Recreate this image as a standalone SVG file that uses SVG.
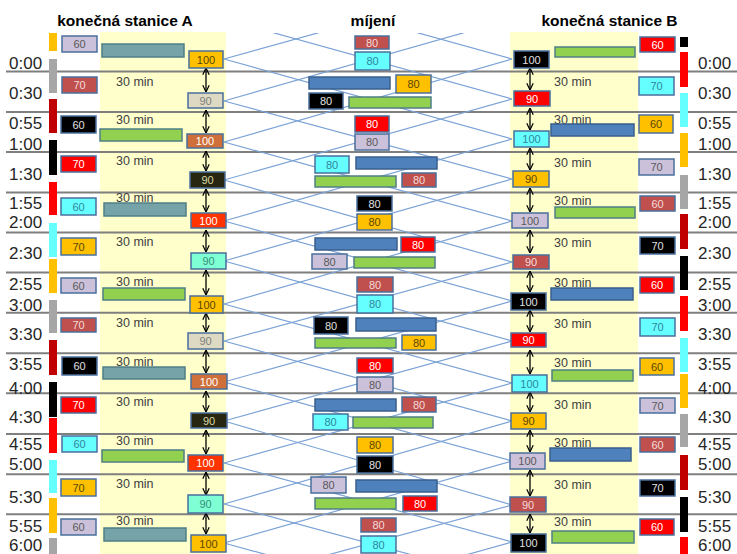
<svg xmlns="http://www.w3.org/2000/svg" width="737" height="554" viewBox="0 0 737 554">
<style>
text{font-family:"Liberation Sans",Arial,sans-serif}
.time{font-size:17px;fill:#262626}
.title{font-size:15.5px;font-weight:bold;fill:#000;text-anchor:middle}
.min{font-size:12.5px;fill:#404040}
.bx{stroke:#4A6F9C;stroke-width:1.5}
.bar{stroke:#4F7F86;stroke-width:1.5}
.lb{font-size:11px;text-anchor:middle}
.hl{stroke:#7F7F7F;stroke-width:2}
.cn{stroke:#7BA3D6;stroke-width:1.2;fill:none}
.ar{stroke:#000;stroke-width:1.3;marker-start:url(#ah);marker-end:url(#ah)}
.lav{fill:#CCC1DA}.tlav{fill:#595959}
.brn{fill:#C0504D}.tbrn{fill:#F2DCDB}
.blk{fill:#000}.tblk{fill:#E0E0E0}
.red{fill:#FF0000}.tred{fill:#FFF}
.cyn{fill:#66FFFF}.tcyn{fill:#31859C}
.org{fill:#FFC000}.torg{fill:#5A4600}
.tan{fill:#DDD9C3}.ttan{fill:#7F7F7F}
.rust{fill:#CF6F3A}.trust{fill:#FFF}
.dko{fill:#262611}.tdko{fill:#DDD9A8}
.rdo{fill:#FF3300}.trdo{fill:#FFF}
.aqa{fill:#7FFFD4}.taqa{fill:#3A8F7A}
.teal{fill:#75A3A8}.grn{fill:#92D050}.blu{fill:#4F81BD;stroke:#3A5F8D;stroke-width:1.5}
</style>
<defs>
<marker id="ah" viewBox="0 0 10 10" refX="9.5" refY="5" markerWidth="8" markerHeight="8" markerUnits="userSpaceOnUse" orient="auto-start-reverse"><path d="M1,1 L9.5,5 L1,9" fill="none" stroke="#000" stroke-width="1.5"/></marker>
<clipPath id="cp"><rect x="0" y="33" width="737" height="521"/></clipPath>
</defs>
<rect width="737" height="554" fill="#fff"/>
<g id="bands">
<rect x="100" y="32" width="126" height="522" fill="#FFFFCC"/>
<rect x="510" y="32" width="128" height="522" fill="#FFFFCC"/>
</g>
<g id="titles">
<text class="title" x="125" y="26">konečná stanice A</text>
<text class="title" x="373" y="26">míjení</text>
<text class="title" x="609.5" y="26">konečná stanice B</text>
</g>
<g id="gridlines">
<line class="hl" x1="6" y1="71.5" x2="737" y2="71.5"/>
<line class="hl" x1="6" y1="112" x2="737" y2="112"/>
<line class="hl" x1="6" y1="152" x2="737" y2="152"/>
<line class="hl" x1="6" y1="192.5" x2="737" y2="192.5"/>
<line class="hl" x1="6" y1="232.5" x2="737" y2="232.5"/>
<line class="hl" x1="6" y1="272.5" x2="737" y2="272.5"/>
<line class="hl" x1="6" y1="312.7" x2="737" y2="312.7"/>
<line class="hl" x1="6" y1="353.3" x2="737" y2="353.3"/>
<line class="hl" x1="6" y1="393.3" x2="737" y2="393.3"/>
<line class="hl" x1="6" y1="434" x2="737" y2="434"/>
<line class="hl" x1="6" y1="474.3" x2="737" y2="474.3"/>
<line class="hl" x1="6" y1="514.3" x2="737" y2="514.3"/>
</g>
<g id="connectors">
<g clip-path="url(#cp)">
<line class="cn" x1="224" y1="-21" x2="512" y2="59"/>
<line class="cn" x1="224" y1="19" x2="512" y2="99"/>
<line class="cn" x1="224" y1="59" x2="512" y2="139"/>
<line class="cn" x1="224" y1="101" x2="512" y2="179"/>
<line class="cn" x1="224" y1="142" x2="512" y2="221"/>
<line class="cn" x1="224" y1="180" x2="512" y2="262"/>
<line class="cn" x1="224" y1="221" x2="512" y2="301"/>
<line class="cn" x1="224" y1="261" x2="512" y2="341"/>
<line class="cn" x1="224" y1="304" x2="512" y2="383"/>
<line class="cn" x1="224" y1="341" x2="512" y2="421"/>
<line class="cn" x1="224" y1="382" x2="512" y2="461"/>
<line class="cn" x1="224" y1="421" x2="512" y2="505"/>
<line class="cn" x1="224" y1="463" x2="512" y2="542"/>
<line class="cn" x1="224" y1="504" x2="512" y2="582"/>
<line class="cn" x1="224" y1="543" x2="512" y2="622"/>
<line class="cn" x1="512" y1="-21" x2="224" y2="59"/>
<line class="cn" x1="512" y1="19" x2="224" y2="101"/>
<line class="cn" x1="512" y1="59" x2="224" y2="142"/>
<line class="cn" x1="512" y1="99" x2="224" y2="180"/>
<line class="cn" x1="512" y1="139" x2="224" y2="221"/>
<line class="cn" x1="512" y1="179" x2="224" y2="261"/>
<line class="cn" x1="512" y1="221" x2="224" y2="304"/>
<line class="cn" x1="512" y1="262" x2="224" y2="341"/>
<line class="cn" x1="512" y1="301" x2="224" y2="382"/>
<line class="cn" x1="512" y1="341" x2="224" y2="421"/>
<line class="cn" x1="512" y1="383" x2="224" y2="463"/>
<line class="cn" x1="512" y1="421" x2="224" y2="504"/>
<line class="cn" x1="512" y1="461" x2="224" y2="543"/>
<line class="cn" x1="512" y1="505" x2="224" y2="583"/>
<line class="cn" x1="512" y1="542" x2="224" y2="623"/>
</g>
<line class="ar" x1="206" y1="68" x2="206" y2="92"/>
<line class="ar" x1="206" y1="110" x2="206" y2="133"/>
<line class="ar" x1="206" y1="151" x2="206" y2="171"/>
<line class="ar" x1="206" y1="189" x2="206" y2="212"/>
<line class="ar" x1="206" y1="230" x2="206" y2="252"/>
<line class="ar" x1="206" y1="270" x2="206" y2="295"/>
<line class="ar" x1="206" y1="313" x2="206" y2="332"/>
<line class="ar" x1="206" y1="350" x2="206" y2="373"/>
<line class="ar" x1="206" y1="391" x2="206" y2="412"/>
<line class="ar" x1="206" y1="430" x2="206" y2="454"/>
<line class="ar" x1="206" y1="472" x2="206" y2="495"/>
<line class="ar" x1="206" y1="513" x2="206" y2="534"/>
<line class="ar" x1="530" y1="68" x2="530" y2="90"/>
<line class="ar" x1="530" y1="108" x2="530" y2="130"/>
<line class="ar" x1="530" y1="148" x2="530" y2="170"/>
<line class="ar" x1="530" y1="188" x2="530" y2="212"/>
<line class="ar" x1="530" y1="230" x2="530" y2="253"/>
<line class="ar" x1="530" y1="271" x2="530" y2="292"/>
<line class="ar" x1="530" y1="310" x2="530" y2="332"/>
<line class="ar" x1="530" y1="350" x2="530" y2="374"/>
<line class="ar" x1="530" y1="392" x2="530" y2="412"/>
<line class="ar" x1="530" y1="430" x2="530" y2="452"/>
<line class="ar" x1="530" y1="470" x2="530" y2="496"/>
<line class="ar" x1="530" y1="514" x2="530" y2="533"/>
</g>
<g id="strips">
<rect x="49" y="33" width="8" height="18" fill="#FFC000"/>
<rect x="49" y="59" width="8" height="34" fill="#A6A6A6"/>
<rect x="49" y="99" width="8" height="34" fill="#C00000"/>
<rect x="49" y="140" width="8" height="35" fill="#000"/>
<rect x="49" y="182" width="8" height="33" fill="#FF0000"/>
<rect x="49" y="223" width="8" height="34" fill="#66FFFF"/>
<rect x="49" y="259" width="8" height="34" fill="#FFC000"/>
<rect x="49" y="300" width="8" height="33" fill="#A6A6A6"/>
<rect x="49" y="340" width="8" height="35" fill="#C00000"/>
<rect x="49" y="382" width="8" height="35" fill="#000"/>
<rect x="49" y="418" width="8" height="35" fill="#FF0000"/>
<rect x="49" y="460" width="8" height="33" fill="#66FFFF"/>
<rect x="49" y="498" width="8" height="35" fill="#FFC000"/>
<rect x="49" y="538" width="8" height="16" fill="#A6A6A6"/>
<rect x="680" y="37" width="8" height="10" fill="#000"/>
<rect x="680" y="52" width="8" height="35" fill="#FF0000"/>
<rect x="680" y="93" width="8" height="34" fill="#66FFFF"/>
<rect x="680" y="133" width="8" height="34" fill="#FFC000"/>
<rect x="680" y="175" width="8" height="34" fill="#A6A6A6"/>
<rect x="680" y="214" width="8" height="35" fill="#C00000"/>
<rect x="680" y="256" width="8" height="34" fill="#000"/>
<rect x="680" y="296" width="8" height="35" fill="#FF0000"/>
<rect x="680" y="338" width="8" height="34" fill="#66FFFF"/>
<rect x="680" y="374" width="8" height="34" fill="#FFC000"/>
<rect x="680" y="414" width="8" height="33" fill="#A6A6A6"/>
<rect x="680" y="455" width="8" height="35" fill="#C00000"/>
<rect x="680" y="497" width="8" height="35" fill="#000"/>
<rect x="680" y="537" width="8" height="17" fill="#FF0000"/>
</g>
<g id="times">
<text class="time" x="9" y="69">0:00</text>
<text class="time" x="9" y="98.5">0:30</text>
<text class="time" x="9" y="128.5">0:55</text>
<text class="time" x="9" y="150">1:00</text>
<text class="time" x="9" y="180">1:30</text>
<text class="time" x="9" y="208.5">1:55</text>
<text class="time" x="9" y="227.5">2:00</text>
<text class="time" x="9" y="258.5">2:30</text>
<text class="time" x="9" y="290">2:55</text>
<text class="time" x="9" y="311">3:00</text>
<text class="time" x="9" y="340">3:30</text>
<text class="time" x="9" y="370">3:55</text>
<text class="time" x="9" y="393.5">4:00</text>
<text class="time" x="9" y="422.5">4:30</text>
<text class="time" x="9" y="450">4:55</text>
<text class="time" x="9" y="470">5:00</text>
<text class="time" x="9" y="502.5">5:30</text>
<text class="time" x="9" y="532">5:55</text>
<text class="time" x="9" y="550.5">6:00</text>
<text class="time" x="698" y="69">0:00</text>
<text class="time" x="698" y="98.5">0:30</text>
<text class="time" x="698" y="128.5">0:55</text>
<text class="time" x="698" y="150">1:00</text>
<text class="time" x="698" y="180">1:30</text>
<text class="time" x="698" y="208.5">1:55</text>
<text class="time" x="698" y="227.5">2:00</text>
<text class="time" x="698" y="258.5">2:30</text>
<text class="time" x="698" y="290">2:55</text>
<text class="time" x="698" y="311">3:00</text>
<text class="time" x="698" y="340">3:30</text>
<text class="time" x="698" y="370">3:55</text>
<text class="time" x="698" y="393.5">4:00</text>
<text class="time" x="698" y="422.5">4:30</text>
<text class="time" x="698" y="450">4:55</text>
<text class="time" x="698" y="470">5:00</text>
<text class="time" x="698" y="502.5">5:30</text>
<text class="time" x="698" y="532">5:55</text>
<text class="time" x="698" y="550.5">6:00</text>
</g>
<g id="durations">
<text class="min" x="116" y="86">30 min</text>
<text class="min" x="116" y="124">30 min</text>
<text class="min" x="116" y="165">30 min</text>
<text class="min" x="116" y="202">30 min</text>
<text class="min" x="116" y="246">30 min</text>
<text class="min" x="116" y="286">30 min</text>
<text class="min" x="116" y="327">30 min</text>
<text class="min" x="116" y="366">30 min</text>
<text class="min" x="116" y="406">30 min</text>
<text class="min" x="116" y="445">30 min</text>
<text class="min" x="116" y="488">30 min</text>
<text class="min" x="116" y="525">30 min</text>
<text class="min" x="554" y="86">30 min</text>
<text class="min" x="554" y="124">30 min</text>
<text class="min" x="554" y="167">30 min</text>
<text class="min" x="554" y="205">30 min</text>
<text class="min" x="554" y="247">30 min</text>
<text class="min" x="554" y="287">30 min</text>
<text class="min" x="554" y="328">30 min</text>
<text class="min" x="554" y="367">30 min</text>
<text class="min" x="554" y="409">30 min</text>
<text class="min" x="554" y="447">30 min</text>
<text class="min" x="554" y="489">30 min</text>
<text class="min" x="554" y="526">30 min</text>
</g>
<g id="bars">
<rect id="lb0" class="bar teal" x="102" y="44" width="82" height="13"/>
<rect id="lb1" class="bar grn" x="100" y="129" width="82" height="12"/>
<rect id="lb2" class="bar teal" x="104" y="203" width="82" height="13"/>
<rect id="lb3" class="bar grn" x="103" y="288" width="82" height="12"/>
<rect id="lb4" class="bar teal" x="103" y="367" width="82" height="12"/>
<rect id="lb5" class="bar grn" x="102" y="450" width="82" height="12"/>
<rect id="lb6" class="bar teal" x="104" y="528" width="82" height="13"/>
<rect id="rb0" class="bar grn" x="555" y="47" width="80" height="10"/>
<rect id="rb1" class="blu" x="551" y="124" width="83" height="12"/>
<rect id="rb2" class="bar grn" x="555" y="207" width="80" height="11"/>
<rect id="rb3" class="blu" x="551" y="288" width="82" height="12"/>
<rect id="rb4" class="bar grn" x="552" y="370" width="81" height="11"/>
<rect id="rb5" class="blu" x="550" y="448" width="81" height="13"/>
<rect id="rb6" class="bar grn" x="552" y="531" width="82" height="12"/>
<rect id="cb1a" class="blu" x="309" y="77" width="81" height="12"/>
<rect id="cb1b" class="bar grn" x="349" y="97" width="82" height="11"/>
<rect id="cb3a" class="blu" x="356" y="157" width="81" height="12"/>
<rect id="cb3b" class="bar grn" x="315" y="176" width="81" height="11"/>
<rect id="cb5a" class="blu" x="315" y="238" width="82" height="12"/>
<rect id="cb5b" class="bar grn" x="354" y="257" width="81" height="11"/>
<rect id="cb7a" class="blu" x="356" y="318" width="80" height="13"/>
<rect id="cb7b" class="bar grn" x="315" y="338" width="81" height="10"/>
<rect id="cb9a" class="blu" x="315" y="399" width="81" height="12"/>
<rect id="cb9b" class="bar grn" x="353" y="417" width="80" height="11"/>
<rect id="cb11a" class="blu" x="356" y="480" width="81" height="12"/>
<rect id="cb11b" class="bar grn" x="315" y="498" width="81" height="11"/>
</g>
<g id="left-small">
<g id="ls0"><rect class="bx lav" x="62" y="36" width="35" height="16"/><text class="lb tlav" x="79.5" y="48">60</text></g>
<g id="ls1"><rect class="bx brn" x="62" y="77" width="35" height="16"/><text class="lb tbrn" x="79.5" y="89">70</text></g>
<g id="ls2"><rect class="bx blk" x="61" y="116" width="35" height="17"/><text class="lb tblk" x="78.5" y="128.5">60</text></g>
<g id="ls3"><rect class="bx red" x="61" y="156" width="35" height="16"/><text class="lb tred" x="78.5" y="168">70</text></g>
<g id="ls4"><rect class="bx cyn" x="61" y="198" width="35" height="17"/><text class="lb tcyn" x="78.5" y="210.5">60</text></g>
<g id="ls5"><rect class="bx org" x="61" y="238" width="35" height="17"/><text class="lb torg" x="78.5" y="250.5">70</text></g>
<g id="ls6"><rect class="bx lav" x="61" y="278" width="35" height="15"/><text class="lb tlav" x="78.5" y="289.5">60</text></g>
<g id="ls7"><rect class="bx brn" x="61" y="318" width="35" height="14"/><text class="lb tbrn" x="78.5" y="329">70</text></g>
<g id="ls8"><rect class="bx blk" x="62" y="357" width="35" height="18"/><text class="lb tblk" x="79.5" y="370">60</text></g>
<g id="ls9"><rect class="bx red" x="61" y="397" width="35" height="16"/><text class="lb tred" x="78.5" y="409">70</text></g>
<g id="ls10"><rect class="bx cyn" x="62" y="436" width="35" height="16"/><text class="lb tcyn" x="79.5" y="448">60</text></g>
<g id="ls11"><rect class="bx org" x="61" y="479" width="35" height="17"/><text class="lb torg" x="78.5" y="491.5">70</text></g>
<g id="ls12"><rect class="bx lav" x="61" y="519" width="35" height="16"/><text class="lb tlav" x="78.5" y="531">60</text></g>
</g>
<g id="right-small">
<g id="rs0"><rect class="bx red" x="640" y="37" width="35" height="15"/><text class="lb tred" x="657.5" y="48.5">60</text></g>
<g id="rs1"><rect class="bx cyn" x="639" y="77" width="35" height="18"/><text class="lb tcyn" x="656.5" y="90">70</text></g>
<g id="rs2"><rect class="bx org" x="639" y="115" width="34" height="18"/><text class="lb torg" x="656" y="128">60</text></g>
<g id="rs3"><rect class="bx lav" x="639" y="159" width="35" height="16"/><text class="lb tlav" x="656.5" y="171">70</text></g>
<g id="rs4"><rect class="bx brn" x="640" y="196" width="35" height="15"/><text class="lb tbrn" x="657.5" y="207.5">60</text></g>
<g id="rs5"><rect class="bx blk" x="640" y="237" width="35" height="17"/><text class="lb tblk" x="657.5" y="249.5">70</text></g>
<g id="rs6"><rect class="bx red" x="640" y="277" width="34" height="16"/><text class="lb tred" x="657" y="289">60</text></g>
<g id="rs7"><rect class="bx cyn" x="640" y="318" width="35" height="18"/><text class="lb tcyn" x="657.5" y="331">70</text></g>
<g id="rs8"><rect class="bx org" x="640" y="358" width="34" height="17"/><text class="lb torg" x="657" y="370.5">60</text></g>
<g id="rs9"><rect class="bx lav" x="640" y="398" width="35" height="15"/><text class="lb tlav" x="657.5" y="409.5">70</text></g>
<g id="rs10"><rect class="bx brn" x="640" y="437" width="35" height="15"/><text class="lb tbrn" x="657.5" y="448.5">60</text></g>
<g id="rs11"><rect class="bx blk" x="640" y="480" width="35" height="16"/><text class="lb tblk" x="657.5" y="492">70</text></g>
<g id="rs12"><rect class="bx red" x="640" y="519" width="34" height="16"/><text class="lb tred" x="657" y="531">60</text></g>
</g>
<g id="left-dep">
<g id="ld0"><rect class="bx org" x="189" y="51" width="34" height="17"/><text class="lb torg" x="206" y="63.5">100</text></g>
<g id="ld1"><rect class="bx tan" x="188" y="93" width="35" height="15"/><text class="lb ttan" x="205.5" y="104.5">90</text></g>
<g id="ld2"><rect class="bx rust" x="187" y="134" width="36" height="14"/><text class="lb trust" x="205" y="145">100</text></g>
<g id="ld3"><rect class="bx dko" x="190" y="172" width="35" height="16"/><text class="lb tdko" x="207.5" y="184">90</text></g>
<g id="ld4"><rect class="bx rdo" x="191" y="213" width="35" height="15"/><text class="lb trdo" x="208.5" y="224.5">100</text></g>
<g id="ld5"><rect class="bx aqa" x="191" y="253" width="35" height="16"/><text class="lb taqa" x="208.5" y="265">90</text></g>
<g id="ld6"><rect class="bx org" x="190" y="296" width="33" height="17"/><text class="lb torg" x="206.5" y="308.5">100</text></g>
<g id="ld7"><rect class="bx tan" x="188" y="333" width="35" height="16"/><text class="lb ttan" x="205.5" y="345">90</text></g>
<g id="ld8"><rect class="bx rust" x="191" y="374" width="36" height="15"/><text class="lb trust" x="209" y="385.5">100</text></g>
<g id="ld9"><rect class="bx dko" x="191" y="413" width="36" height="15"/><text class="lb tdko" x="209" y="424.5">90</text></g>
<g id="ld10"><rect class="bx rdo" x="188" y="455" width="35" height="16"/><text class="lb trdo" x="205.5" y="467">100</text></g>
<g id="ld11"><rect class="bx aqa" x="188" y="495" width="35" height="18"/><text class="lb taqa" x="205.5" y="508">90</text></g>
<g id="ld12"><rect class="bx org" x="191" y="535" width="35" height="17"/><text class="lb torg" x="208.5" y="547.5">100</text></g>
</g>
<g id="right-dep">
<g id="rd0"><rect class="bx blk" x="514" y="51" width="35" height="17"/><text class="lb tblk" x="531.5" y="63.5">100</text></g>
<g id="rd1"><rect class="bx red" x="514" y="91" width="36" height="15"/><text class="lb tred" x="532" y="102.5">90</text></g>
<g id="rd2"><rect class="bx cyn" x="514" y="131" width="35" height="16"/><text class="lb tcyn" x="531.5" y="143">100</text></g>
<g id="rd3"><rect class="bx org" x="513" y="171" width="36" height="16"/><text class="lb torg" x="531" y="183">90</text></g>
<g id="rd4"><rect class="bx lav" x="512" y="213" width="36" height="15"/><text class="lb tlav" x="530" y="224.5">100</text></g>
<g id="rd5"><rect class="bx brn" x="513" y="255" width="36" height="14"/><text class="lb tbrn" x="531" y="266">90</text></g>
<g id="rd6"><rect class="bx blk" x="511" y="293" width="35" height="17"/><text class="lb tblk" x="528.5" y="305.5">100</text></g>
<g id="rd7"><rect class="bx red" x="511" y="333" width="35" height="14"/><text class="lb tred" x="528.5" y="344">90</text></g>
<g id="rd8"><rect class="bx cyn" x="512" y="375" width="35" height="17"/><text class="lb tcyn" x="529.5" y="387.5">100</text></g>
<g id="rd9"><rect class="bx org" x="511" y="413" width="35" height="16"/><text class="lb torg" x="528.5" y="425">90</text></g>
<g id="rd10"><rect class="bx lav" x="510" y="453" width="35" height="16"/><text class="lb tlav" x="527.5" y="465">100</text></g>
<g id="rd11"><rect class="bx brn" x="510" y="497" width="36" height="15"/><text class="lb tbrn" x="528" y="508.5">90</text></g>
<g id="rd12"><rect class="bx blk" x="511" y="534" width="35" height="18"/><text class="lb tblk" x="528.5" y="547">100</text></g>
</g>
<g id="center">
<g id="c0a"><rect class="bx brn" x="355" y="36" width="34" height="13"/><text class="lb tbrn" x="372" y="46.5">80</text></g>
<g id="c0b"><rect class="bx cyn" x="355" y="52" width="35" height="18"/><text class="lb tcyn" x="372.5" y="65">80</text></g>
<g id="c1a"><rect class="bx org" x="396" y="75" width="35" height="18"/><text class="lb torg" x="413.5" y="88">80</text></g>
<g id="c1b"><rect class="bx blk" x="309" y="93" width="34" height="16"/><text class="lb tblk" x="326" y="105">80</text></g>
<g id="c2a"><rect class="bx red" x="355" y="116" width="34" height="16"/><text class="lb tred" x="372" y="128">80</text></g>
<g id="c2b"><rect class="bx lav" x="355" y="134" width="34" height="16"/><text class="lb tlav" x="372" y="146">80</text></g>
<g id="c3a"><rect class="bx cyn" x="315" y="156" width="34" height="17"/><text class="lb tcyn" x="332" y="168.5">80</text></g>
<g id="c3b"><rect class="bx brn" x="402" y="173" width="34" height="14"/><text class="lb tbrn" x="419" y="184">80</text></g>
<g id="c4a"><rect class="bx blk" x="357" y="196" width="35" height="15"/><text class="lb tblk" x="374.5" y="207.5">80</text></g>
<g id="c4b"><rect class="bx org" x="357" y="214" width="35" height="16"/><text class="lb torg" x="374.5" y="226">80</text></g>
<g id="c5a"><rect class="bx red" x="401" y="237" width="34" height="15"/><text class="lb tred" x="418" y="248.5">80</text></g>
<g id="c5b"><rect class="bx lav" x="312" y="254" width="35" height="15"/><text class="lb tlav" x="329.5" y="265.5">80</text></g>
<g id="c6a"><rect class="bx brn" x="357" y="277" width="36" height="15"/><text class="lb tbrn" x="375" y="288.5">80</text></g>
<g id="c6b"><rect class="bx cyn" x="357" y="295" width="36" height="18"/><text class="lb tcyn" x="375" y="308">80</text></g>
<g id="c7a"><rect class="bx blk" x="314" y="317" width="34" height="17"/><text class="lb tblk" x="331" y="329.5">80</text></g>
<g id="c7b"><rect class="bx org" x="402" y="335" width="34" height="15"/><text class="lb torg" x="419" y="346.5">80</text></g>
<g id="c8a"><rect class="bx red" x="357" y="358" width="36" height="15"/><text class="lb tred" x="375" y="369.5">80</text></g>
<g id="c8b"><rect class="bx lav" x="357" y="377" width="36" height="15"/><text class="lb tlav" x="375" y="388.5">80</text></g>
<g id="c9a"><rect class="bx brn" x="402" y="397" width="34" height="15"/><text class="lb tbrn" x="419" y="408.5">80</text></g>
<g id="c9b"><rect class="bx cyn" x="313" y="414" width="35" height="16"/><text class="lb tcyn" x="330.5" y="426">80</text></g>
<g id="c10a"><rect class="bx org" x="357" y="437" width="36" height="16"/><text class="lb torg" x="375" y="449">80</text></g>
<g id="c10b"><rect class="bx blk" x="357" y="456" width="36" height="17"/><text class="lb tblk" x="375" y="468.5">80</text></g>
<g id="c11a"><rect class="bx lav" x="311" y="477" width="35" height="16"/><text class="lb tlav" x="328.5" y="489">80</text></g>
<g id="c11b"><rect class="bx red" x="403" y="496" width="34" height="15"/><text class="lb tred" x="420" y="507.5">80</text></g>
<g id="c12a"><rect class="bx brn" x="361" y="518" width="35" height="14"/><text class="lb tbrn" x="378.5" y="529">80</text></g>
<g id="c12b"><rect class="bx cyn" x="361" y="536" width="35" height="17"/><text class="lb tcyn" x="378.5" y="548.5">80</text></g>
</g>
</svg>
